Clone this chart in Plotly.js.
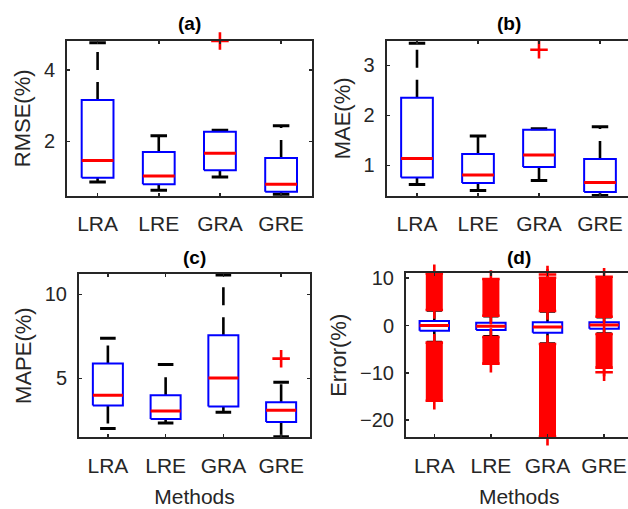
<!DOCTYPE html>
<html>
<head>
<meta charset="utf-8">
<script src="https://cdn.plot.ly/plotly-3.0.1.min.js"></script>
<style>
html,body{margin:0;padding:0;overflow:hidden;background:#fff;}
#chart{width:634px;height:509px;}
</style>
</head>
<body>
<div id="chart"></div>
<script>
// ---------------- data ----------------
var categories = ['LRA', 'LRE', 'GRA', 'GRE'];

// (a) RMSE(%)
var rmseLow  = [0.87, 0.64, 1.01, 0.53];
var rmseQ1   = [0.99, 0.81, 1.20, 0.60];
var rmseMed  = [1.47, 1.04, 1.67, 0.81];
var rmseQ3   = [3.16, 1.71, 2.27, 1.54];
var rmseHigh = [4.75, 2.16, 2.31, 2.44];
var rmseOutCat = ['GRA'];
var rmseOutVal = [4.80];

// (b) MAE(%)
var maeLow  = [0.62, 0.50, 0.70, 0.40];
var maeQ1   = [0.76, 0.65, 0.97, 0.47];
var maeMed  = [1.14, 0.81, 1.21, 0.66];
var maeQ3   = [2.35, 1.23, 1.71, 1.13];
var maeHigh = [3.44, 1.59, 1.73, 1.77];
var maeOutCat = ['GRA'];
var maeOutVal = [3.31];

// (c) MAPE(%)
var mapeLow  = [2.02, 2.34, 2.98, 1.53];
var mapeQ1   = [3.39, 2.58, 3.33, 2.40];
var mapeMed  = [3.99, 3.05, 5.02, 3.10];
var mapeQ3   = [5.89, 3.99, 7.56, 3.57];
var mapeHigh = [7.38, 5.83, 11.15, 4.76];
var mapeOutCat = ['GRE'];
var mapeOutVal = [6.17];

// (d) Error(%)
var errLow  = [-3.55, -2.35, -3.85, -1.75];
var errQ1   = [-1.10, -0.95, -1.52, -0.67];
var errMed  = [0.00, -0.17, -0.32, 0.10];
var errQ3   = [0.95, 0.60, 0.68, 0.68];
var errHigh = [3.20, 2.00, 3.00, 1.80];
// dense outlier bands (lowest..highest outlier in each band)
var errPosOutLo = [3.28, 2.07, 3.07, 1.86];
var errPosOutHi = [11.03, 9.83, 10.10, 10.30];
var errNegOutHi = [-3.63, -2.43, -3.91, -1.80];
var errNegOutLo = [-15.90, -8.07, -23.50, -8.90];
// isolated outliers
var errOutCat = ['GRA', 'GRE'];
var errOutVal = [10.80, -9.90];

// ---------------- styling / layout ----------------
var W = 634, H = 509;
var AX = '#262626';
var FONT = 'Liberation Sans, Arial, Helvetica, sans-serif';
var BOXHW = 0.26, CAPHW = 0.135;

function px2x(a, b) { return [a / W, b / W]; }
function px2y(top, bottom) { return [1 - bottom / H, 1 - top / H]; }

var traces = [];

function pos(cat) { return categories.indexOf(cat) + 1; }

function addPanel(xa, ya, low, q1, med, q3, high, outCat, outVal) {
  var wx = [], wy = [], cx = [], cy = [], bx = [], by = [], mx = [], my = [];
  for (var i = 0; i < categories.length; i++) {
    var p = i + 1;
    wx.push(p, p, null, p, p, null);
    wy.push(q3[i], high[i], null, q1[i], low[i], null);
    cx.push(p - CAPHW, p + CAPHW, null, p - CAPHW, p + CAPHW, null);
    cy.push(high[i], high[i], null, low[i], low[i], null);
    bx.push(p - BOXHW, p + BOXHW, p + BOXHW, p - BOXHW, p - BOXHW, null);
    by.push(q1[i], q1[i], q3[i], q3[i], q1[i], null);
    mx.push(p - BOXHW, p + BOXHW, null);
    my.push(med[i], med[i], null);
  }
  var common = {xaxis: xa, yaxis: ya, type: 'scatter', hoverinfo: 'skip', showlegend: false};
  traces.push(Object.assign({x: wx, y: wy, mode: 'lines', line: {color: '#000', width: 2.6, dash: '18px,12px'}}, common));
  traces.push(Object.assign({x: cx, y: cy, mode: 'lines', line: {color: '#000', width: 3}}, common));
  traces.push(Object.assign({x: bx, y: by, mode: 'lines', line: {color: '#0000ff', width: 2}}, common));
  traces.push(Object.assign({x: mx, y: my, mode: 'lines', line: {color: '#ff0000', width: 3}}, common));
  if (outCat && outCat.length) {
    traces.push(Object.assign({x: outCat.map(pos), y: outVal, mode: 'markers', cliponaxis: false,
      marker: {symbol: 'cross-thin', size: 12.5, color: '#ff0000', line: {color: '#ff0000', width: 2.6}}}, common));
  }
}

addPanel('x', 'y', rmseLow, rmseQ1, rmseMed, rmseQ3, rmseHigh, rmseOutCat, rmseOutVal);
addPanel('x2', 'y2', maeLow, maeQ1, maeMed, maeQ3, maeHigh, maeOutCat, maeOutVal);
addPanel('x3', 'y3', mapeLow, mapeQ1, mapeMed, mapeQ3, mapeHigh, mapeOutCat, mapeOutVal);
addPanel('x4', 'y4', errLow, errQ1, errMed, errQ3, errHigh, errOutCat, errOutVal);

// dense outlier bands in panel (d)
(function () {
  var bx = [], by = [], ex = [], ey = [];
  for (var i = 0; i < categories.length; i++) {
    var p = i + 1;
    bx.push(p, p, null, p, p, null);
    by.push(errPosOutLo[i], errPosOutHi[i], null, errNegOutHi[i], errNegOutLo[i], null);
    ex.push(p, p, p, p);
    ey.push(errPosOutLo[i], errPosOutHi[i], errNegOutHi[i], errNegOutLo[i]);
  }
  var common = {xaxis: 'x4', yaxis: 'y4', type: 'scatter', hoverinfo: 'skip', showlegend: false};
  traces.push(Object.assign({x: bx, y: by, mode: 'lines', line: {color: '#ff0000', width: 17}}, common));
  traces.push(Object.assign({x: ex, y: ey, mode: 'markers', cliponaxis: false,
    marker: {symbol: 'cross-thin', size: 12.5, color: '#ff0000', line: {color: '#ff0000', width: 2.6}}}, common));
})();

function xax(dom, showTitle) {
  var a = {
    domain: dom, range: [0.5, 4.5], tickmode: 'array', tickvals: [1, 2, 3, 4], ticktext: categories,
    showline: true, linecolor: AX, linewidth: 2, mirror: 'ticks', ticks: 'inside', ticklen: 3,
    tickwidth: 1.5, tickcolor: AX, showgrid: false, zeroline: false, fixedrange: true,
    tickfont: {family: FONT, size: 21, color: AX}, ticklabelstandoff: 8
  };
  if (showTitle) a.title = {text: 'Methods', font: {family: FONT, size: 21, color: AX}, standoff: 14};
  return a;
}
function yax(dom, range, tv, title, standoff) {
  return {
    domain: dom, range: range, tickmode: 'array', tickvals: tv,
    showline: true, linecolor: AX, linewidth: 2, mirror: 'ticks', ticks: 'inside', ticklen: 3,
    tickwidth: 1.5, tickcolor: AX, showgrid: false, zeroline: false, fixedrange: true,
    tickfont: {family: FONT, size: 20, color: AX}, ticklabelstandoff: 6,
    title: {text: title, font: {family: FONT, size: 22, color: AX}, standoff: standoff}
  };
}

var dA = px2x(67, 311.7), dB = px2x(386.5, 630.5), dC = px2x(79, 310), dD = px2x(406, 632.4);
var yTop = px2y(40.7, 196), yBotC = px2y(274, 437.3), yBotD = px2y(273.3, 437.3);

function panelTitle(txt, dom, ypx) {
  return {text: txt, xref: 'paper', yref: 'paper', x: (dom[0] + dom[1]) / 2, y: 1 - ypx / H,
    xanchor: 'center', yanchor: 'middle', showarrow: false,
    font: {family: FONT, size: 19, color: '#000', weight: 'bold'}};
}

var layout = {
  width: W, height: H, margin: {l: 0, r: 0, t: 0, b: 0},
  paper_bgcolor: '#fff', plot_bgcolor: '#fff', showlegend: false,
  xaxis: Object.assign(xax(dA, false), {anchor: 'y'}),
  yaxis: Object.assign(yax(yTop, [0.48, 4.81], [2, 4], 'RMSE(%)', 7), {anchor: 'x'}),
  xaxis2: Object.assign(xax(dB, false), {anchor: 'y2'}),
  yaxis2: Object.assign(yax(yTop, [0.39, 3.49], [1, 2, 3], 'MAE(%)', 7), {anchor: 'x2'}),
  xaxis3: Object.assign(xax(dC, true), {anchor: 'y3'}),
  yaxis3: Object.assign(yax(yBotC, [1.49, 11.21], [5, 10], 'MAPE(%)', 7), {anchor: 'x3'}),
  xaxis4: Object.assign(xax(dD, true), {anchor: 'y4'}),
  yaxis4: Object.assign(yax(yBotD, [-23.64, 11.04], [-20, -10, 0, 10], 'Error(%)', 7), {anchor: 'x4'}),
  annotations: [
    panelTitle('(a)', dA, 24), panelTitle('(b)', dB, 24),
    panelTitle('(c)', dC, 257), panelTitle('(d)', dD, 257)
  ]
};

Plotly.newPlot('chart', traces, layout, {staticPlot: true, displayModeBar: false});
</script>
</body>
</html>
